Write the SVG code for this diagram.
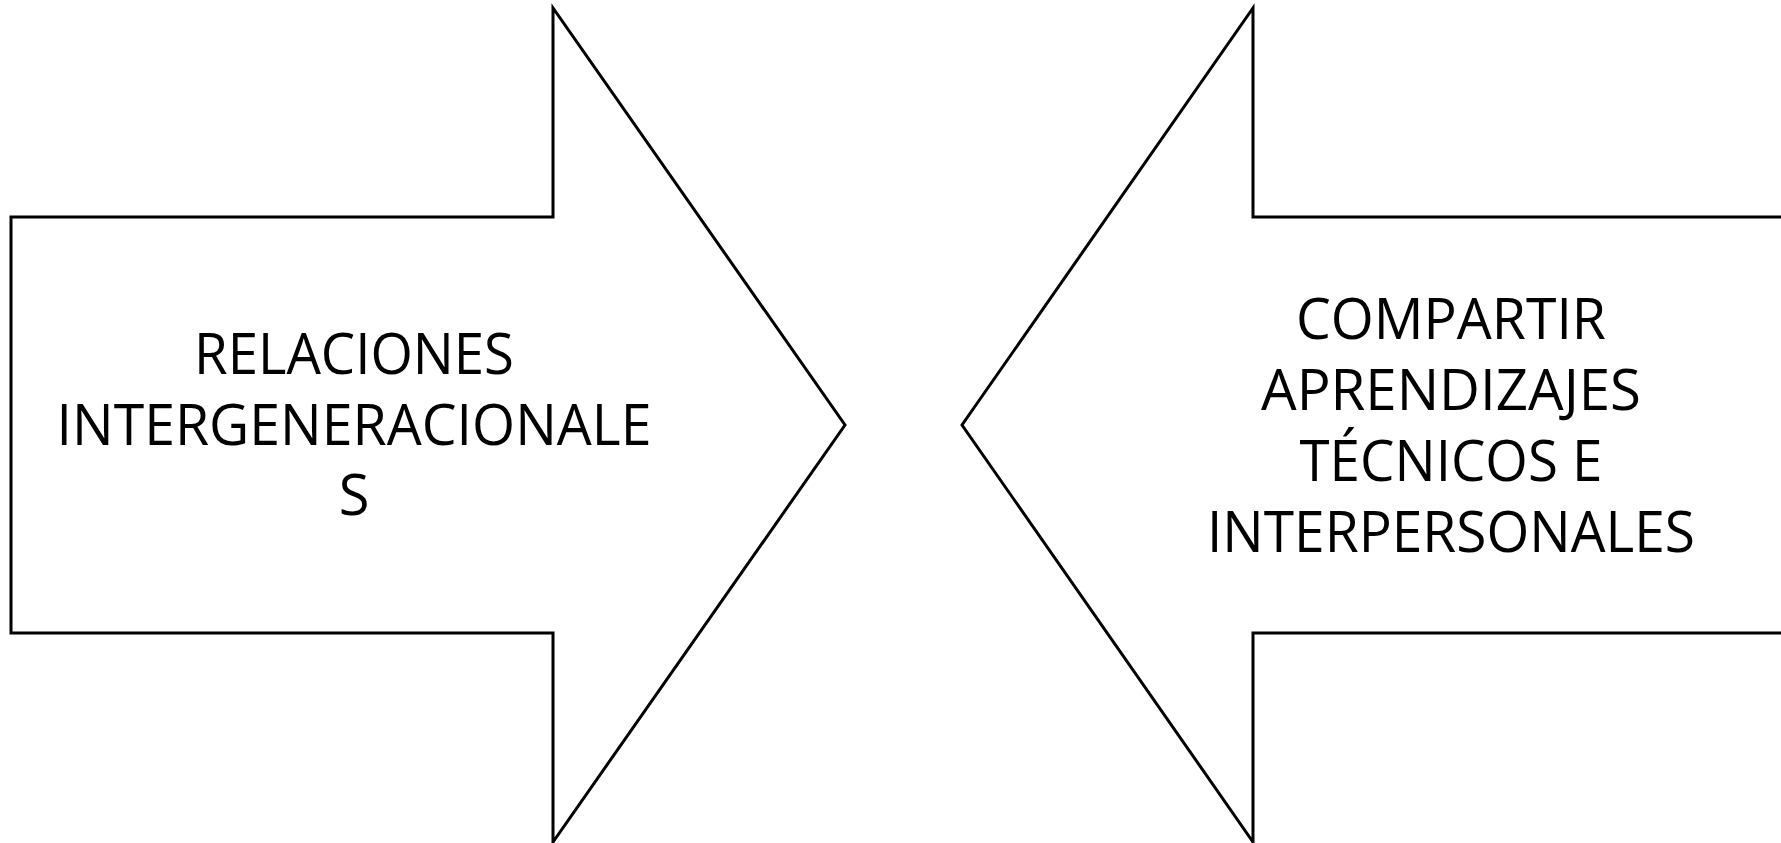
<svg xmlns="http://www.w3.org/2000/svg" width="1781" height="843" viewBox="0 0 1781 843">
<style>
.arrow{fill:#fff;stroke:#000;stroke-width:3;stroke-linejoin:miter}
.lbl{font-family:"Open Sans","Noto Sans","Liberation Sans",sans-serif;fill:#000;text-anchor:middle;font-size:56px}
</style>
<rect width="1781" height="843" fill="#fff"/>
<g id="connectors"></g>
<g id="node-left">
<path class="arrow" d="M11,217 L553,217 L553,8 L845,425 L553,842 L553,633 L11,633 Z"/>
<text class="lbl" x="354" y="374" textLength="320" lengthAdjust="spacingAndGlyphs">RELACIONES</text>
<text class="lbl" x="354" y="445" textLength="595" lengthAdjust="spacingAndGlyphs">INTERGENERACIONALE</text>
<text class="lbl" x="354" y="515">S</text>
</g>
<g id="node-right">
<path class="arrow" d="M1790,217 L1253,217 L1253,8 L962,425 L1253,842 L1253,633 L1790,633"/>
<text class="lbl" x="1451" y="339" textLength="310" lengthAdjust="spacingAndGlyphs">COMPARTIR</text>
<text class="lbl" x="1451" y="410" textLength="380" lengthAdjust="spacingAndGlyphs">APRENDIZAJES</text>
<text class="lbl" x="1451" y="481" textLength="303" lengthAdjust="spacingAndGlyphs">TÉCNICOS E</text>
<text class="lbl" x="1451" y="552" textLength="488" lengthAdjust="spacingAndGlyphs">INTERPERSONALES</text>
</g>
</svg>
